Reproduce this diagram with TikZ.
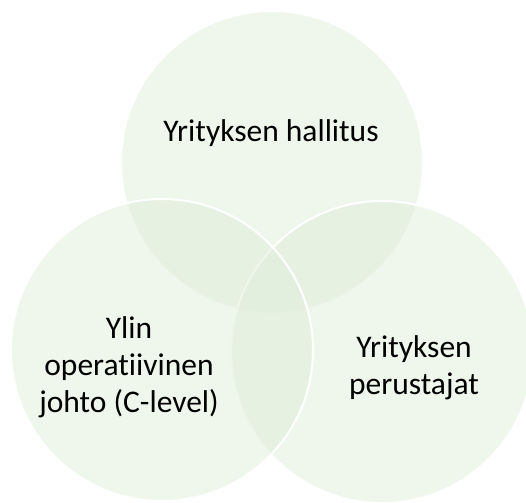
\documentclass[tikz,border=0pt]{standalone}
\usepackage{fontspec}
\setmainfont{Carlito}[Ligatures={NoCommon,NoContextual}]
\definecolor{vennfill}{RGB}{223,237,217}
\begin{document}
\begin{tikzpicture}[x=1pt,y=-1pt,
  venn/.style={fill=vennfill,fill opacity=0.5,draw=white,line width=2pt},
  label/.style={align=center,text=black,font=\fontsize{31.5}{37}\selectfont,inner sep=0pt}]
  \useasboundingbox (0,0) rectangle (526,502);
  \clip (0,0) rectangle (526,502);
  % three overlapping sets, back to front
  \path[venn] (272,162) circle (151);
  \path[venn] (382,352) circle (151);
  \path[venn] (162,350) circle (151);
  % set labels
  \node[label,anchor=base] (board) at (271,142) {Yrityksen hallitus};
  \node[label] (exec) at (129,367) {Ylin\\operatiivinen\\johto (C-level)};
  \node[label] (founders) at (414,368) {Yrityksen\\perustajat};
\end{tikzpicture}
\end{document}
